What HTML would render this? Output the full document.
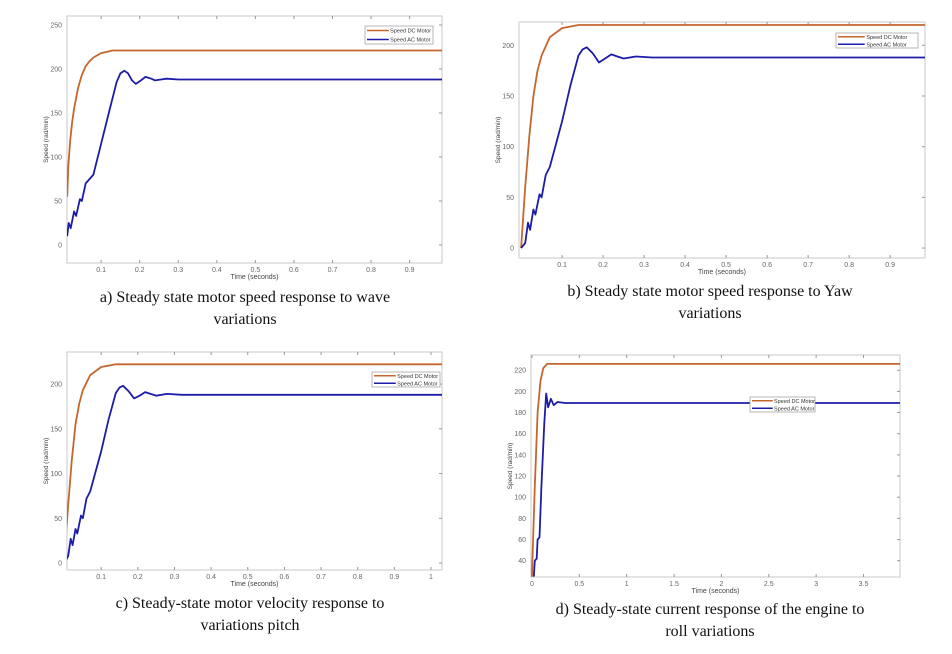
<!DOCTYPE html>
<html><head><meta charset="utf-8"><style>
body{margin:0;background:#fff;width:952px;height:654px;overflow:hidden;font-family:"Liberation Serif",serif}
.cap{position:absolute;font-size:16px;text-align:center;color:#111;line-height:22px}
svg{position:absolute;left:0;top:0}
</style></head><body>
<svg id="chart" width="952" height="654" font-family="Liberation Sans, sans-serif"></svg>
<div class="cap" style="left:40px;top:287px;width:410px">a) Steady state motor speed response to wave<br>variations</div>
<div class="cap" style="left:500px;top:281px;width:420px">b) Steady state motor speed response to Yaw<br>variations</div>
<div class="cap" style="left:40px;top:593px;width:420px">c) Steady-state motor velocity response to<br>variations pitch</div>
<div class="cap" style="left:495px;top:599px;width:430px">d) Steady-state current response of the engine to<br>roll variations</div>
<script>
// Panel a
const aDcT=[0.012,0.015,0.02,0.025,0.03,0.04,0.05,0.06,0.07,0.08,0.1,0.13,1.0];
const aDcV=[55,90,120,140,155,178,193,203,209,213,218,221,221];
const aAcT=[0.012,0.016,0.021,0.03,0.035,0.045,0.05,0.06,0.07,0.08,0.1,0.12,0.14,0.15,0.16,0.17,0.18,0.19,0.2,0.215,0.23,0.24,0.255,0.27,0.3,1.0];
const aAcV=[10,25,19,38,33,52,50,70,75,80,115,150,185,195,198,195,187,183,186,191,189,187,188,189,188,188];
// Panel b
const bDcT=[0,0.01,0.02,0.03,0.04,0.05,0.07,0.1,0.14,1.0];
const bDcV=[0,60,110,150,175,190,208,217,220,220];
const bAcT=[0,0.01,0.017,0.022,0.03,0.035,0.045,0.05,0.06,0.07,0.1,0.12,0.14,0.15,0.16,0.175,0.19,0.205,0.22,0.235,0.25,0.28,0.32,1.0];
const bAcV=[0,5,25,18,38,33,53,50,72,80,125,160,190,196,198,192,183,187,191,189,187,189,188,188];
// Panel c
const cDcT=[0,0.01,0.02,0.03,0.04,0.05,0.07,0.1,0.14,1.05];
const cDcV=[10,65,115,155,178,193,210,219,222,222];
const cAcT=[0,0.01,0.017,0.022,0.03,0.035,0.045,0.05,0.06,0.07,0.1,0.12,0.14,0.15,0.16,0.175,0.19,0.205,0.22,0.235,0.25,0.28,0.32,1.05];
const cAcV=[0,8,27,20,38,33,53,50,72,80,125,160,190,196,198,192,184,187,191,189,187,189,188,188];
// Panel d
const dDcT=[0,0.03,0.06,0.09,0.12,0.16,3.9];
const dDcV=[25,110,180,210,222,226,226];
const dAcT=[0.02,0.03,0.05,0.06,0.08,0.1,0.13,0.15,0.17,0.2,0.23,0.27,0.35,3.9];
const dAcV=[25,40,42,60,62,110,170,198,185,193,187,190,189,189];
// Tick labels
const abcXTicks=[0.1,0.2,0.3,0.4,0.5,0.6,0.7,0.8,0.9];
const cXTicks=[0.1,0.2,0.3,0.4,0.5,0.6,0.7,0.8,0.9,1];
const aYTicks=[0,50,100,150,200,250];
const bYTicks=[0,50,100,150,200];
const dXTicks=[0,0.5,1,1.5,2,2.5,3,3.5];
const dYTicks=[40,60,80,100,120,140,160,180,200,220];

const svg=document.getElementById('chart');
const NS='http://www.w3.org/2000/svg';
function el(tag,attrs,parent){const e=document.createElementNS(NS,tag);for(const k in attrs)e.setAttribute(k,attrs[k]);(parent||svg).appendChild(e);return e;}

function panel(id,box,xr,yr,xt,yt,dc,ac,leg){
  const g=el('g',{});
  
  
  const [L,T,R,B]=box;
  const sx=v=>L+(v-xr[0])/(xr[1]-xr[0])*(R-L);
  const sy=v=>B-(v-yr[0])/(yr[1]-yr[0])*(B-T);
  const frame=el('rect',{x:L,y:T,width:R-L,height:B-T,fill:'#fff',stroke:'#c8c8c8','stroke-width':1},g);
  
  
  xt.forEach(v=>{
    const x=sx(v);
    el('line',{x1:x,x2:x,y1:B,y2:B-3,stroke:'#999'},g);
    el('line',{x1:x,x2:x,y1:T,y2:T+3,stroke:'#999'},g);
    const t=el('text',{x:x,y:B+9,'font-size':7,fill:'#666','text-anchor':'middle'},g);
    t.textContent=v;
    
    
  });
  yt.forEach(v=>{
    const y=sy(v);
    el('line',{x1:R,x2:R-3,y1:y,y2:y,stroke:'#999'},g);
    const t=el('text',{x:L-5,y:y+2.5,'font-size':7,fill:'#666','text-anchor':'end'},g);
    t.textContent=v;
    
    
  });
  const xl=el('text',{x:(L+R)/2,y:B+16,'font-size':7,fill:'#444','text-anchor':'middle'},g);
  xl.textContent='Time (seconds)';
  
  
  const yx=L-19,yy=(T+B)/2;
  const yl=el('text',{x:yx,y:yy,'font-size':6.5,fill:'#444','text-anchor':'middle',transform:`rotate(-90 ${yx} ${yy})`},g);
  yl.textContent='Speed (rad/min)';
  
  
  const clip=el('clipPath',{id:'clip'+id},g);
  el('rect',{x:L,y:T,width:R-L,height:B-T},clip);
  const path=(T_,V_,c,name)=>{
    const d=T_.map((t,i)=>(i?'L':'M')+sx(t).toFixed(1)+','+sy(V_[i]).toFixed(1)).join('');
    const p=el('path',{d:d,fill:'none',stroke:c,'stroke-width':1.8,'stroke-linejoin':'round','clip-path':`url(#clip${id})`},g);
    
    
  };
  path(dc[0],dc[1],'#c4662e','series-dc-motor');
  path(ac[0],ac[1],'#1c1ca8','series-ac-motor');
  const [lx,ly,lw,lh]=leg;
  const lg=el('g',{},g);
  
  
  el('rect',{x:lx,y:ly,width:lw,height:lh,fill:'#fff',stroke:'#999','stroke-width':0.7},lg);
  [['Speed DC Motor','#c4662e'],['Speed AC Motor','#1c1ca8']].forEach((e,i)=>{
    const yy2=ly+lh*(i*2+1)/4;
    el('line',{x1:lx+2,x2:lx+lw*0.35,y1:yy2,y2:yy2,stroke:e[1],'stroke-width':1.5},lg);
    const t=el('text',{x:lx+lw*0.37,y:yy2+2,'font-size':5.5,fill:'#333'},lg);
    t.textContent=e[0];
    
    
  });
}
panel('a',[67,16,442,263],[0.0115,0.984],[-20.5,260.2],abcXTicks,aYTicks,[aDcT,aDcV],[aAcT,aAcV],[365,26,68,18]);
panel('b',[519,22,925,258],[-0.005,0.985],[-9.8,223],abcXTicks,bYTicks,[bDcT,bDcV],[bAcT,bAcV],[836,33,82,15]);
panel('c',[67,352,442,570],[0.0068,1.03],[-7.8,235.8],cXTicks,bYTicks,[cDcT,cDcV],[cAcT,cAcV],[372,372,68,15]);
panel('d',[531,355,900,577],[-0.01,3.885],[24.6,234.4],dXTicks,dYTicks,[dDcT,dDcV],[dAcT,dAcV],[750,397,65,15]);
</script>
</body></html>
